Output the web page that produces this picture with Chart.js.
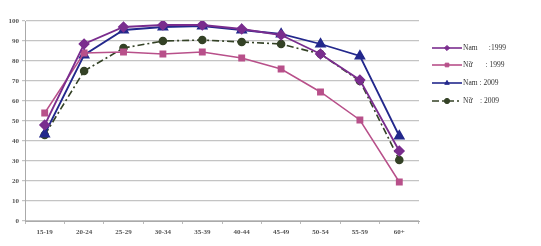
<!DOCTYPE html>
<html><head><meta charset="utf-8">
<script src="https://cdn.jsdelivr.net/npm/chart.js@4/dist/chart.umd.min.js"></script>
<style>html,body{margin:0;padding:0;background:#fff}#w{width:541px;height:246px}</style>
</head><body><div id="w"><canvas id="c"></canvas></div>
<script>
const categories = ["15-19","20-24","25-29","30-34","35-39","40-44","45-49","50-54","55-59","60+"];
const nam1999 = [48, 88.5, 97, 98, 98, 96, 93, 83.5, 70.5, 35];
const nu1999  = [54, 84, 84.5, 83.5, 84.5, 81.5, 76, 64.5, 50.5, 19.5];
const nam2009 = [43.5, 83, 95.5, 97, 97.5, 95.5, 93.5, 88.5, 82.5, 42.5];
const nu2009  = [43, 75, 86.5, 90, 90.5, 89.5, 88.5, 83.5, 70, 30.5];
const seriesLabels = ["Nam      :1999", "Nữ       : 1999", "Nam : 2009", "Nữ    : 2009"];
const yTicks = [0,10,20,30,40,50,60,70,80,90,100];

const font = "'Liberation Serif', 'DejaVu Serif', serif";

const legendPlugin = {
  id: 'sideLegend',
  afterDraw(chart) {
    const ctx = chart.ctx;
    const ys = [48, 65, 83, 101];
    chart.data.datasets.forEach((ds, i) => {
      const y = ys[i];
      ctx.save();
      ctx.strokeStyle = ds.borderColor;
      ctx.lineWidth = 1.6;
      ctx.setLineDash(ds.borderDash || []);
      ctx.beginPath(); ctx.moveTo(432, y); ctx.lineTo(462, y); ctx.stroke();
      ctx.setLineDash([]);
      ctx.fillStyle = ds.borderColor;
      ctx.strokeStyle = ds.borderColor;
      ctx.lineWidth = 1;
      Chart.helpers.drawPoint(ctx, {pointStyle: ds.pointStyle, radius: 2.6, rotation: 0, borderWidth: 1}, 447, y);
      ctx.fillStyle = '#333';
      ctx.font = "7.5px " + font;
      ctx.textBaseline = 'middle';
      ctx.fillText(seriesLabels[i], 463, y);
      ctx.restore();
    });
  }
};

new Chart(document.getElementById('c'), {
  type: 'line',
  data: {
    labels: categories,
    datasets: [
      {label: seriesLabels[0], data: nam1999, borderColor: '#7a2d8e', backgroundColor: '#7a2d8e', pointStyle: 'rectRot', pointRadius: 4.5, borderWidth: 1.8},
      {label: seriesLabels[1], data: nu1999, borderColor: '#b8508a', backgroundColor: '#b8508a', pointStyle: 'rect', pointRadius: 3.8, borderWidth: 1.5},
      {label: seriesLabels[2], data: nam2009, borderColor: '#23288c', backgroundColor: '#23288c', pointStyle: 'triangle', pointRadius: 5, borderWidth: 1.8},
      {label: seriesLabels[3], data: nu2009, borderColor: '#344226', backgroundColor: '#344226', pointStyle: 'circle', pointRadius: 3.5, borderWidth: 1.6, borderDash: [7,3,2,3]}
    ]
  },
  options: {
    responsive: true, maintainAspectRatio: false, animation: false,
    layout: {padding: {top: 21, right: 122, left: 0, bottom: 0}},
    plugins: {legend: {display: false}, tooltip: {enabled: false}},
    scales: {
      x: {
        offset: true,
        grid: {display: true, drawOnChartArea: false, offset: true, tickLength: 3, color: '#bbb'},
        border: {color: '#aaa'},
        ticks: {font: {family: font, size: 7, weight: 'bold'}, color: '#555', maxRotation: 0, padding: 4},
        afterFit(s) { s.height = 25; }
      },
      y: {
        min: 0, max: 100,
        afterBuildTicks(s) { s.ticks = yTicks.map(v => ({value: v})); },
        grid: {color: '#c4c4c4', lineWidth: 1.2, tickLength: 3},
        border: {color: '#aaa'},
        ticks: {font: {family: font, size: 7, weight: 'bold'}, color: '#555', padding: 3},
        afterFit(s) { s.width = 25; }
      }
    }
  },
  plugins: [legendPlugin]
});
</script></body></html>
